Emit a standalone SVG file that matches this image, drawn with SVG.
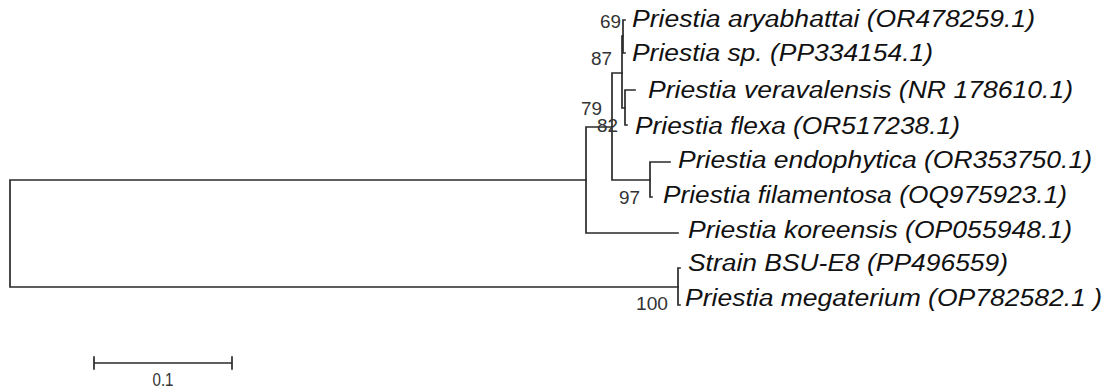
<svg xmlns="http://www.w3.org/2000/svg" width="1112" height="390" viewBox="0 0 1112 390">
<style>
.br{stroke:#2a2a2a;stroke-width:1.7;fill:none;stroke-linecap:square}
.tx{font-family:"Liberation Sans",Arial,sans-serif;font-style:italic;font-size:23px;fill:#111}
.bs{font-family:"Liberation Sans",Arial,sans-serif;font-size:18px;fill:#333;text-anchor:end}
.sc{font-family:"Liberation Sans",Arial,sans-serif;font-size:18px;fill:#333;text-anchor:middle}
</style>
<rect width="1112" height="390" fill="#fff"/>
<g id="connectors">
<path class="br" d="M10,180 V287 M10,180 H586 M10,287 H678"/>
<path class="br" d="M586,127 V233 M586,127 H612 M586,233 H678"/>
<path class="br" d="M612,73 V180 M612,73 H622 M612,180 H650"/>
<path class="br" d="M650,162 V197 M650,162 H670 M650,197 H652"/>
<path class="br" d="M622,36 V108 M622,36 H623 M622,108 H625"/>
<path class="br" d="M623,20 V53 M623,20 H625 M623,53 H625"/>
<path class="br" d="M625,90 V125 M625,90 H635 M625,125 H627"/>
<path class="br" d="M678,268 V305 M678,268 H680 M678,305 H680"/>
</g>
<g id="n69"><text class="bs" x="621" y="28" textLength="21" lengthAdjust="spacingAndGlyphs">69</text></g>
<g id="n87"><text class="bs" x="612" y="65" textLength="21" lengthAdjust="spacingAndGlyphs">87</text></g>
<g id="n79"><text class="bs" x="602" y="115" textLength="21" lengthAdjust="spacingAndGlyphs">79</text></g>
<g id="n82"><text class="bs" x="618" y="132" textLength="21" lengthAdjust="spacingAndGlyphs">82</text></g>
<g id="n97"><text class="bs" x="640" y="204" textLength="21" lengthAdjust="spacingAndGlyphs">97</text></g>
<g id="n100"><text class="bs" x="668" y="310" textLength="32" lengthAdjust="spacingAndGlyphs">100</text></g>
<g id="aryabhattai"><text class="tx" x="632" y="27" textLength="403" lengthAdjust="spacingAndGlyphs">Priestia aryabhattai (OR478259.1)</text></g>
<g id="sp"><text class="tx" x="632" y="61" textLength="301" lengthAdjust="spacingAndGlyphs">Priestia sp. (PP334154.1)</text></g>
<g id="veravalensis"><text class="tx" x="648" y="98" textLength="425" lengthAdjust="spacingAndGlyphs">Priestia veravalensis (NR 178610.1)</text></g>
<g id="flexa"><text class="tx" x="635" y="134" textLength="325" lengthAdjust="spacingAndGlyphs">Priestia flexa (OR517238.1)</text></g>
<g id="endophytica"><text class="tx" x="678" y="168" textLength="414" lengthAdjust="spacingAndGlyphs">Priestia endophytica (OR353750.1)</text></g>
<g id="filamentosa"><text class="tx" x="663" y="203" textLength="404" lengthAdjust="spacingAndGlyphs">Priestia filamentosa (OQ975923.1)</text></g>
<g id="koreensis"><text class="tx" x="688" y="238" textLength="384" lengthAdjust="spacingAndGlyphs">Priestia koreensis (OP055948.1)</text></g>
<g id="strain"><text class="tx" x="688" y="271" textLength="320" lengthAdjust="spacingAndGlyphs">Strain BSU-E8 (PP496559)</text></g>
<g id="megaterium"><text class="tx" x="685" y="306" textLength="417" lengthAdjust="spacingAndGlyphs">Priestia megaterium (OP782582.1 )</text></g>
<g id="scalebar">
<path class="br" d="M94,363 H232 M94,357 V369 M232,357 V369"/>
<text class="sc" x="163" y="386" textLength="21" lengthAdjust="spacingAndGlyphs">0.1</text>
</g>
</svg>
